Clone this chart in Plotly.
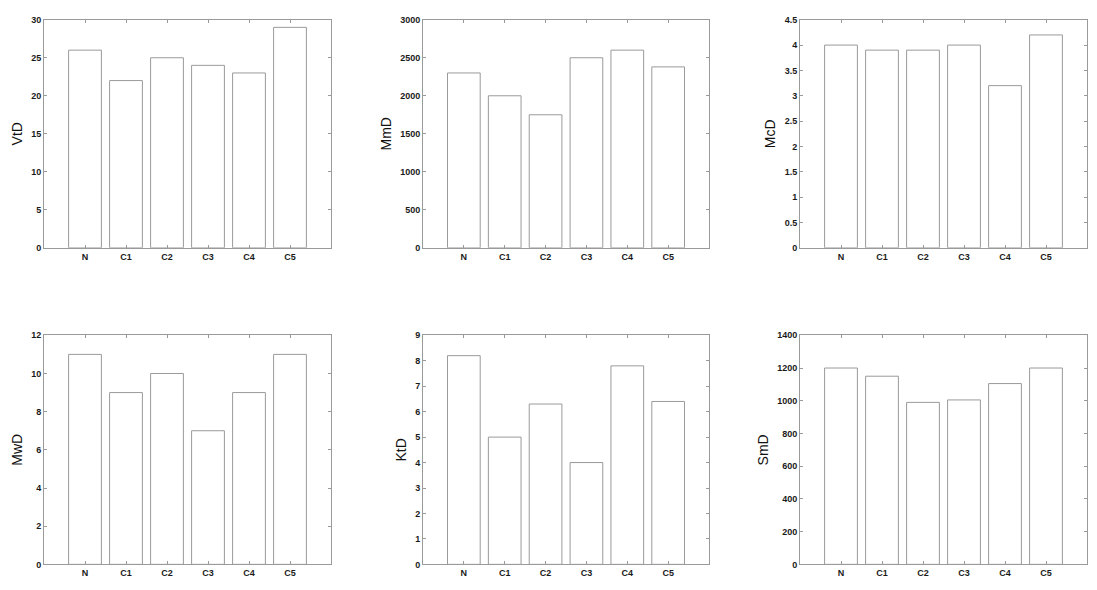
import plotly.graph_objects as go
from plotly.subplots import make_subplots

categories = ["N", "C1", "C2", "C3", "C4", "C5"]
positions = [1, 2, 3, 4, 5, 6]

VtD = [26, 22, 25, 24, 23, 29]
MmD = [2300, 2000, 1750, 2500, 2600, 2380]
McD = [4.0, 3.9, 3.9, 4.0, 3.2, 4.2]
MwD = [11, 9, 10, 7, 9, 11]
KtD = [8.2, 5.0, 6.3, 4.0, 7.8, 6.4]
SmD = [1200, 1150, 990, 1005, 1105, 1200]

panels = [
    ("VtD", VtD, 30, 5),
    ("MmD", MmD, 3000, 500),
    ("McD", McD, 4.5, 0.5),
    ("MwD", MwD, 12, 2),
    ("KtD", KtD, 9, 1),
    ("SmD", SmD, 1400, 200),
]

W, H = 1097, 590
xdoms = [(44, 331), (423, 709), (800, 1087)]
ydoms = [(15, 247), (336, 569)]

fig = make_subplots(rows=2, cols=3)

line_col = "#9a9a9a"
tickfont = dict(family="Liberation Sans, Arial, sans-serif", size=9, color="#1a1a1a", weight="bold")

for i, (name, vals, ymax, dt) in enumerate(panels):
    r, c = i // 3 + 1, i % 3 + 1
    fig.add_trace(
        go.Bar(
            x=positions, y=vals, width=0.8,
            marker=dict(color="white", line=dict(color=line_col, width=1)),
            showlegend=False, hoverinfo="y",
        ),
        row=r, col=c,
    )
    x0, x1 = xdoms[c - 1]
    y0, y1 = ydoms[r - 1]
    fig.update_xaxes(
        domain=[x0 / W, x1 / W], range=[0, 7],
        tickmode="array", tickvals=positions, ticktext=categories,
        showline=True, mirror="ticks", linecolor=line_col, linewidth=1,
        ticks="inside", ticklen=3, tickcolor=line_col,
        showgrid=False, zeroline=False, tickfont=tickfont,
        row=r, col=c,
    )
    fig.update_yaxes(
        domain=[1 - y1 / H, 1 - y0 / H], range=[0, ymax], dtick=dt, tick0=0,
        showline=True, mirror="ticks", linecolor=line_col, linewidth=1,
        ticks="inside", ticklen=3, tickcolor=line_col,
        showgrid=False, zeroline=False, tickfont=tickfont,
        title=dict(text=name, font=dict(family="Liberation Sans, Arial, sans-serif", size=14, color="#111"), standoff=5),
        row=r, col=c,
    )

fig.update_layout(
    width=W, height=H,
    margin=dict(l=0, r=0, t=0, b=0),
    paper_bgcolor="white", plot_bgcolor="white",
    bargap=0.2,
)

fig.write_html("out.html")
